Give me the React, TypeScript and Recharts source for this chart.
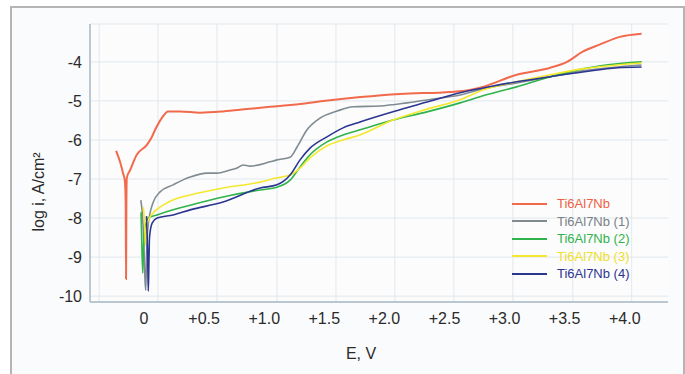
import { LineChart, Line, XAxis, YAxis, CartesianGrid, ReferenceLine, Legend, Label } from 'recharts';

const FONT = '"Liberation Sans", Arial, sans-serif';

// axis ticks
const X_TICKS = [0, 0.5, 1, 1.5, 2, 2.5, 3, 3.5, 4];
const Y_TICKS = [-10, -9, -8, -7, -6, -5, -4];
// the background grid of the original is not aligned with the labels
const GRID_X = [-0.374, 0.116, 0.607, 1.106, 1.597, 2.087, 2.578, 3.069, 3.568, 4.058];

// E (V) vs log i (A/cm2)
const bare = [
  { e: -0.233, v: -6.28 }, { e: -0.2, v: -6.56 }, { e: -0.175, v: -6.85 }, { e: -0.16, v: -7.05 },
  { e: -0.153, v: -7.6 }, { e: -0.15, v: -9.56 }, { e: -0.147, v: -7.6 }, { e: -0.144, v: -6.97 },
  { e: -0.116, v: -6.77 }, { e: -0.061, v: -6.38 }, { e: 0.022, v: -6.13 }, { e: 0.06, v: -5.95 },
  { e: 0.092, v: -5.74 }, { e: 0.147, v: -5.44 }, { e: 0.2, v: -5.27 }, { e: 0.3, v: -5.27 },
  { e: 0.466, v: -5.3 }, { e: 0.657, v: -5.27 }, { e: 0.857, v: -5.21 }, { e: 1.048, v: -5.15 },
  { e: 1.24, v: -5.1 }, { e: 1.49, v: -5.0 }, { e: 1.8, v: -4.9 }, { e: 2.13, v: -4.82 },
  { e: 2.55, v: -4.77 }, { e: 2.71, v: -4.72 }, { e: 2.82, v: -4.64 }, { e: 3.1, v: -4.33 },
  { e: 3.38, v: -4.15 }, { e: 3.52, v: -4.0 }, { e: 3.65, v: -3.74 }, { e: 3.79, v: -3.56 },
  { e: 3.96, v: -3.36 }, { e: 4.14, v: -3.28 },
];

const sample1 = [
  { e: -0.027, v: -7.54 }, { e: -0.006, v: -8.31 }, { e: 0.008, v: -9.6 }, { e: 0.014, v: -9.85 },
  { e: 0.02, v: -9.0 }, { e: 0.03, v: -8.3 }, { e: 0.05, v: -7.87 }, { e: 0.075, v: -7.6 },
  { e: 0.133, v: -7.33 }, { e: 0.241, v: -7.15 }, { e: 0.383, v: -6.95 }, { e: 0.524, v: -6.85 },
  { e: 0.607, v: -6.85 }, { e: 0.715, v: -6.77 }, { e: 0.774, v: -6.72 }, { e: 0.824, v: -6.64 },
  { e: 0.882, v: -6.67 }, { e: 1.048, v: -6.56 }, { e: 1.106, v: -6.51 }, { e: 1.215, v: -6.44 },
  { e: 1.273, v: -6.18 }, { e: 1.356, v: -5.74 }, { e: 1.464, v: -5.44 }, { e: 1.606, v: -5.26 },
  { e: 1.739, v: -5.15 }, { e: 1.963, v: -5.13 }, { e: 2.188, v: -5.05 }, { e: 2.404, v: -4.95 },
  { e: 2.63, v: -4.85 }, { e: 2.82, v: -4.69 }, { e: 3.1, v: -4.54 }, { e: 3.38, v: -4.38 },
  { e: 3.65, v: -4.23 }, { e: 3.94, v: -4.13 }, { e: 4.14, v: -4.08 },
];

const sample2 = [
  { e: -0.025, v: -7.85 }, { e: -0.02, v: -8.5 }, { e: -0.011, v: -9.41 }, { e: -0.005, v: -8.8 },
  { e: 0.008, v: -8.23 }, { e: 0.022, v: -8.1 }, { e: 0.033, v: -8.0 }, { e: 0.108, v: -7.92 },
  { e: 0.241, v: -7.79 }, { e: 0.383, v: -7.67 }, { e: 0.657, v: -7.46 }, { e: 0.965, v: -7.28 },
  { e: 1.106, v: -7.21 }, { e: 1.215, v: -7.03 }, { e: 1.298, v: -6.69 }, { e: 1.381, v: -6.38 },
  { e: 1.522, v: -6.05 }, { e: 1.656, v: -5.87 }, { e: 1.797, v: -5.74 }, { e: 2.07, v: -5.49 },
  { e: 2.354, v: -5.28 }, { e: 2.63, v: -5.05 }, { e: 2.82, v: -4.87 }, { e: 3.1, v: -4.64 },
  { e: 3.38, v: -4.38 }, { e: 3.65, v: -4.18 }, { e: 3.94, v: -4.05 }, { e: 4.14, v: -4.0 },
];

const sample3 = [
  { e: -0.006, v: -7.72 }, { e: 0.005, v: -8.2 }, { e: 0.012, v: -8.69 }, { e: 0.02, v: -8.4 },
  { e: 0.029, v: -8.1 }, { e: 0.075, v: -7.87 }, { e: 0.133, v: -7.72 }, { e: 0.241, v: -7.54 },
  { e: 0.383, v: -7.41 }, { e: 0.657, v: -7.23 }, { e: 0.965, v: -7.08 }, { e: 1.106, v: -6.97 },
  { e: 1.215, v: -6.9 }, { e: 1.298, v: -6.72 }, { e: 1.381, v: -6.46 }, { e: 1.522, v: -6.15 },
  { e: 1.656, v: -6.0 }, { e: 1.797, v: -5.87 }, { e: 2.07, v: -5.49 }, { e: 2.354, v: -5.21 },
  { e: 2.63, v: -4.97 }, { e: 2.82, v: -4.72 }, { e: 3.1, v: -4.51 }, { e: 3.38, v: -4.33 },
  { e: 3.65, v: -4.18 }, { e: 3.94, v: -4.08 }, { e: 4.14, v: -4.03 },
];

const sample4 = [
  { e: 0.02, v: -7.95 }, { e: 0.03, v: -9.0 }, { e: 0.035, v: -9.87 }, { e: 0.04, v: -9.2 },
  { e: 0.045, v: -8.5 }, { e: 0.067, v: -8.13 }, { e: 0.108, v: -8.0 }, { e: 0.241, v: -7.92 },
  { e: 0.383, v: -7.79 }, { e: 0.657, v: -7.59 }, { e: 0.965, v: -7.23 }, { e: 1.106, v: -7.15 },
  { e: 1.215, v: -6.9 }, { e: 1.298, v: -6.51 }, { e: 1.381, v: -6.21 }, { e: 1.522, v: -5.92 },
  { e: 1.656, v: -5.69 }, { e: 1.797, v: -5.54 }, { e: 2.07, v: -5.28 }, { e: 2.354, v: -5.03 },
  { e: 2.63, v: -4.79 }, { e: 2.82, v: -4.67 }, { e: 3.1, v: -4.51 }, { e: 3.38, v: -4.38 },
  { e: 3.65, v: -4.26 }, { e: 3.94, v: -4.15 }, { e: 4.14, v: -4.13 },
];

const SERIES = [
  { name: 'Ti6Al7Nb', data: bare, color: '#f26a4c', text: '#ef5f43', width: 2 },
  { name: 'Ti6Al7Nb (1)', data: sample1, color: '#7f8b91', text: '#7a8085', width: 1.6 },
  { name: 'Ti6Al7Nb (2)', data: sample2, color: '#2fb34a', text: '#2fb34a', width: 1.6 },
  { name: 'Ti6Al7Nb (3)', data: sample3, color: '#f4e82e', text: '#efe02a', width: 1.6 },
  { name: 'Ti6Al7Nb (4)', data: sample4, color: '#2b3592', text: '#2b3592', width: 1.6 },
];

const fmtX = (t: number) => (t === 0 ? '0' : '+' + t.toFixed(1));

const renderLegend = () => (
  <div style={{ fontFamily: FONT, fontSize: 13 }}>
    {SERIES.map((s) => (
      <div key={s.name} style={{ display: 'flex', alignItems: 'center', height: 17.5 }}>
        <span style={{ display: 'inline-block', width: 35, height: 2, background: s.color, marginRight: 10 }} />
        <span style={{ color: s.text }}>{s.name}</span>
      </div>
    ))}
  </div>
);

export default function App() {
  return (
    <div style={{ position: 'absolute', left: 0, top: 0, width: 685, height: 374, background: '#fff', overflow: 'hidden' }}>
      <div
        style={{
          position: 'absolute', left: 10, top: 6, width: 671, height: 400,
          border: '2px solid #b4b4b4', background: '#fafbfc',
        }}
      />
      <div style={{ position: 'absolute', left: 0, top: 0 }}>
        <LineChart width={685} height={374} margin={{ top: 24, right: 17, bottom: 42, left: 0 }}>
          <CartesianGrid vertical={false} stroke="#e1e8ed" fill="#fcfcfd" />
          {GRID_X.map((g) => (
            <ReferenceLine key={g} x={g} stroke="#e1e8ed" />
          ))}
          <XAxis
            dataKey="e"
            type="number"
            domain={[-0.45, 4.36]}
            ticks={X_TICKS}
            tickFormatter={fmtX}
            allowDataOverflow
            height={30}
            tickLine={false}
            tickMargin={5}
            axisLine={{ stroke: '#a8b9c3', strokeWidth: 1.5 }}
            tick={{ fill: '#2a2a2a', fontSize: 16, fontFamily: FONT }}
          >
            <Label
              content={({ viewBox }: any) => (
                <text x={viewBox.x + 271} y={viewBox.y + 51} textAnchor="middle" dominantBaseline="central"
                  fill="#2a2a2a" fontSize={16} fontFamily={FONT}>E, V</text>
              )}
            />
          </XAxis>
          <XAxis xAxisId="top" orientation="top" type="number" domain={[-0.45, 4.36]} height={0}
            tick={false} tickLine={false} axisLine={{ stroke: '#c6d0d6' }} />
          <YAxis
            dataKey="v"
            type="number"
            domain={[-10.15, -3.03]}
            ticks={Y_TICKS}
            allowDataOverflow
            width={90}
            tickLine={false}
            axisLine={{ stroke: '#a8b9c3', strokeWidth: 1.5 }}
            tick={{ fill: '#2a2a2a', fontSize: 16, fontFamily: FONT }}
          >
            <Label
              content={({ viewBox }: any) => (
                <text x={viewBox.x + 38} y={viewBox.y + 168} textAnchor="middle" dominantBaseline="central"
                  transform={`rotate(-90 ${viewBox.x + 38} ${viewBox.y + 168})`}
                  fill="#2a2a2a" fontSize={16} fontFamily={FONT}>log i, A/cm²</text>
              )}
            />
          </YAxis>
          <YAxis yAxisId="right" orientation="right" type="number" domain={[-10.15, -3.03]} width={0}
            tick={false} tickLine={false} axisLine={{ stroke: '#c6d0d6' }} />
          {SERIES.map((s) => (
            <Line
              key={s.name}
              data={s.data}
              dataKey="v"
              name={s.name}
              type="monotone"
              stroke={s.color}
              strokeWidth={s.width}
              dot={false}
              activeDot={false}
              isAnimationActive={false}
            />
          ))}
          <Legend
            layout="vertical"
            align="center"
            verticalAlign="middle"
            content={renderLegend}
            wrapperStyle={{ left: 512, top: 195, width: 150 }}
          />
        </LineChart>
      </div>
    </div>
  );
}
